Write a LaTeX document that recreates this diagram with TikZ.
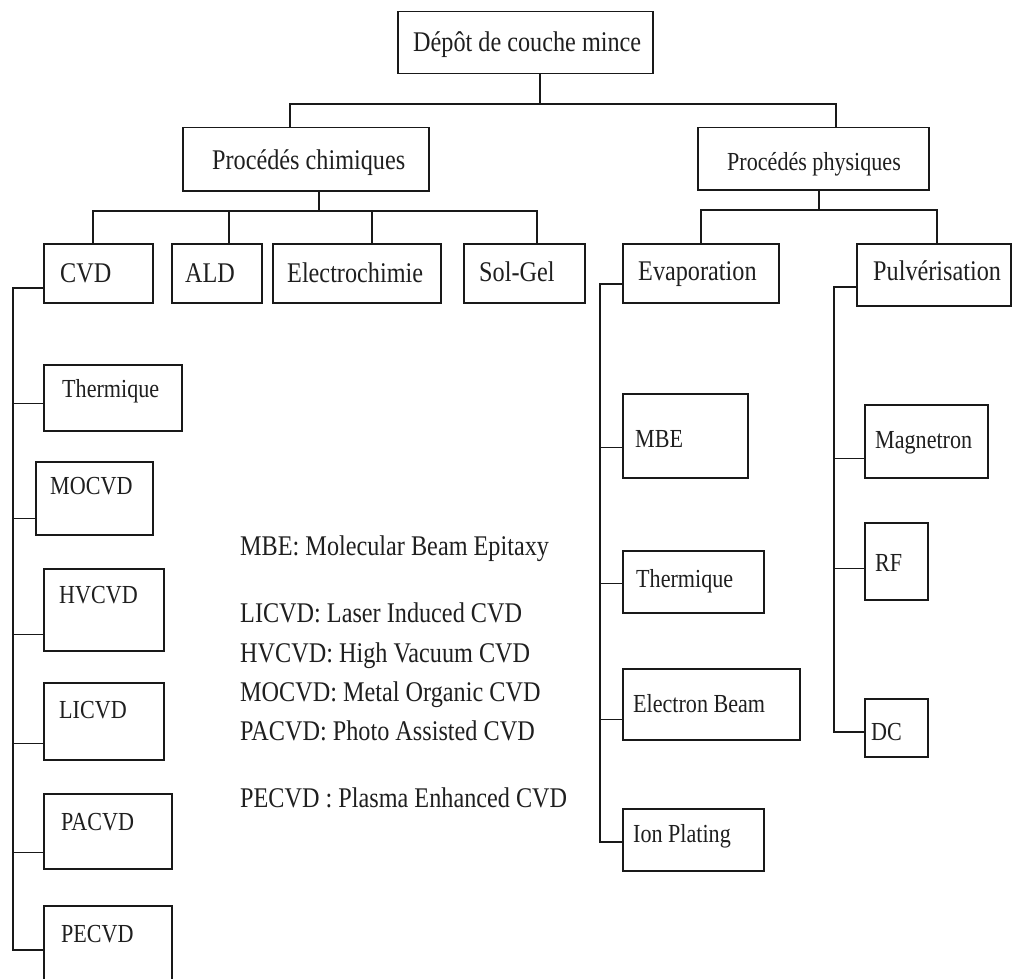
\documentclass[tikz,border=0pt]{standalone}
\usepackage{fontspec}
\newfontfamily\tnr{Liberation Serif}[FakeStretch=0.85]
\newcommand\bx[5]{\node[box, minimum width={(#4-#2)*1pt}, minimum height={(#5-#3)*1pt}] (#1) at (#2,#3) {};}
\begin{document}
\begin{tikzpicture}[x=1pt,y=-1pt,
  box/.style={draw=black!90, line width=1.5pt, inner sep=0pt, anchor=north west, rectangle},
  big/.style={font=\tnr\fontsize{28.5}{30}\selectfont, anchor=base west, inner sep=0pt, text=black!88},
  small/.style={font=\tnr\fontsize{26}{28}\selectfont, anchor=base west, inner sep=0pt, text=black!88},
  legend/.style={font=\tnr\fontsize{28.5}{30}\selectfont, anchor=base west, inner sep=0pt, text=black!88},
  link/.style={draw=black!90, line width=1.3pt},
  trunk/.style={draw=black!90, line width=2.2pt}]
\useasboundingbox[fill=white] (0,0) rectangle (1012,979);

% ---- boxes ----
\bx{top}{397}{11}{652}{73}
\bx{chem}{182}{127}{428}{190}
\bx{phys}{697}{127}{928}{189}
\bx{cvd}{43}{243}{152}{302}
\bx{ald}{171}{243}{261}{302}
\bx{elec}{272}{243}{440}{302}
\bx{solgel}{463}{243}{584}{302}
\bx{evap}{622}{243}{778}{302}
\bx{pulv}{856}{243}{1010}{305}
\bx{therma}{43}{364}{181}{430}
\bx{mocvd}{35}{461}{152}{534}
\bx{hvcvd}{43}{568}{163}{650}
\bx{licvd}{43}{682}{163}{759}
\bx{pacvd}{43}{793}{171}{868}
\bx{pecvd}{43}{905}{171}{992}
\bx{mbe}{622}{393}{747}{477}
\bx{thermb}{622}{550}{763}{612}
\bx{ebeam}{622}{668}{799}{739}
\bx{ion}{622}{808}{763}{870}
\bx{magn}{864}{404}{987}{477}
\bx{rf}{864}{522}{927}{599}
\bx{dc}{864}{698}{927}{756}

% ---- texts ----
\node[big] (top-t) at (413,52) {Dépôt de couche mince};
\node[big] (chem-t) at (212,170) {Procédés chimiques};
\node[small] (phys-t) at (727,171) {Procédés physiques};
\node[big] (cvd-t) at (60,282) {CVD};
\node[big] (ald-t) at (185,282) {ALD};
\node[big] (elec-t) at (287,282) {Electrochimie};
\node[big] (solgel-t) at (479,281) {Sol-Gel};
\node[big] (evap-t) at (638,280) {Evaporation};
\node[big] (pulv-t) at (873,280) {Pulvérisation};
\node[small] (therma-t) at (62,397) {Thermique};
\node[small] (mocvd-t) at (50,494) {MOCVD};
\node[small] (hvcvd-t) at (59,603) {HVCVD};
\node[small] (licvd-t) at (59,718) {LICVD};
\node[small] (pacvd-t) at (61,830) {PACVD};
\node[small] (pecvd-t) at (61,942) {PECVD};
\node[small] (mbe-t) at (635,447) {MBE};
\node[small] (thermb-t) at (636,587) {Thermique};
\node[small] (ebeam-t) at (633,712) {Electron Beam};
\node[small] (ion-t) at (633,842) {Ion Plating};
\node[small] (magn-t) at (875,448) {Magnetron};
\node[small] (rf-t) at (875,571) {RF};
\node[small] (dc-t) at (871,740) {DC};

% ---- legend ----
\node[legend] (leg1) at (240,555) {MBE: Molecular Beam Epitaxy};
\node[legend] (leg2) at (240,622) {LICVD: Laser Induced CVD};
\node[legend] (leg3) at (240,662) {HVCVD: High Vacuum CVD};
\node[legend] (leg4) at (240,701) {MOCVD: Metal Organic CVD};
\node[legend] (leg5) at (240,740) {PACVD: Photo Assisted CVD};
\node[legend] (leg6) at (240,807) {PECVD : Plasma Enhanced CVD};

% ---- level 1 ----
\coordinate (j0) at (540,104);
\coordinate (jL) at (290,104);
\coordinate (jR) at (836,104);
\draw[link] (top.south -| j0) -- (j0);
\draw[link] (jL |- chem.north) -- (jL) -- (jR) -- (jR |- phys.north);

% ---- chemical bus ----
\coordinate (c0) at (319,211);
\coordinate (c1) at (93,211);
\coordinate (c2) at (229,211);
\coordinate (c3) at (372,211);
\coordinate (c4) at (537,211);
\draw[link] (chem.south -| c0) -- (c0);
\draw[link] (c1 |- cvd.north) -- (c1) -- (c4) -- (c4 |- solgel.north);
\draw[link] (c2) -- (c2 |- ald.north);
\draw[link] (c3) -- (c3 |- elec.north);

% ---- physical bus ----
\coordinate (p0) at (819,210);
\coordinate (p1) at (701,210);
\coordinate (p2) at (937,210);
\draw[link] (phys.south -| p0) -- (p0);
\draw[link] (p1 |- evap.north) -- (p1) -- (p2) -- (p2 |- pulv.north);

% ---- CVD trunk ----
\coordinate (v0) at (13,288);
\coordinate (v1) at (13,950);
\draw[trunk] (cvd.west |- v0) -- (v0) -- (v1) -- (v1 -| pecvd.west);
\coordinate (a1) at ([yshift=-6pt]therma.west);
\coordinate (a2) at ([yshift=-20pt]mocvd.west);
\coordinate (a3) at ([yshift=-25pt]hvcvd.west);
\coordinate (a4) at ([yshift=-22pt]licvd.west);
\coordinate (a5) at ([yshift=-21pt]pacvd.west);
\foreach \a in {a1,a2,a3,a4,a5} \draw[link] (\a) -- (\a -| v0);

% ---- Evaporation trunk ----
\coordinate (e0) at (600,284);
\coordinate (e1) at (600,842);
\draw[link] (evap.west |- e0) -- (e0) -- (e1) -- (e1 -| ion.west);
\coordinate (b1) at ([yshift=-12pt]mbe.west);
\coordinate (b2) at ([yshift=-2pt]thermb.west);
\coordinate (b3) at ([yshift=-15pt]ebeam.west);
\foreach \b in {b1,b2,b3} \draw[link] (\b) -- (\b -| e0);

% ---- Pulverisation trunk ----
\coordinate (q0) at (834,287);
\coordinate (q1) at (834,732);
\draw[link] (pulv.west |- q0) -- (q0) -- (q1) -- (q1 -| dc.west);
\coordinate (d1) at ([yshift=-17pt]magn.west);
\coordinate (d2) at ([yshift=-7pt]rf.west);
\foreach \d in {d1,d2} \draw[link] (\d) -- (\d -| q0);
\end{tikzpicture}
\end{document}
